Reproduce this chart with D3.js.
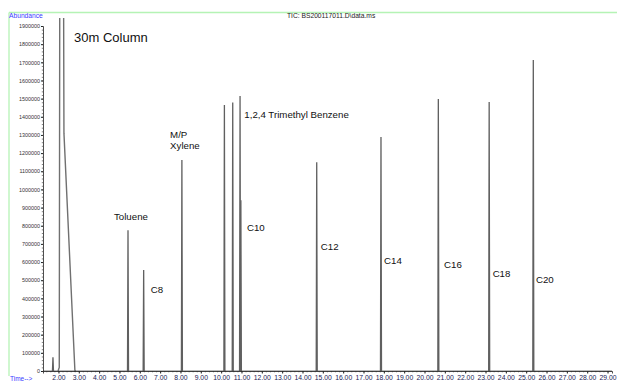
<!DOCTYPE html>
<html>
<head>
<meta charset="utf-8">
<script src="https://cdn.jsdelivr.net/npm/d3@7"></script>
<style>
  html, body { margin: 0; padding: 0; background: #fff; }
  svg { display: block; font-family: "Liberation Sans", Arial, sans-serif; }
</style>
</head>
<body>
<svg id="chart" width="617" height="381"></svg>
<script>
// Total ion chromatogram, 30 m column
const chartTitle = "30m Column";
const fileLabel = "TIC: BS200117011.D\\data.ms";

// Resolved peaks: retention time (min), abundance
const peakTimes   = [1.73, 5.42, 6.19, 8.07, 10.16, 10.57, 10.93, 10.97, 14.70, 17.86, 20.68, 23.18, 25.35];
const peakHeights = [75000, 775000, 556000, 1162000, 1465000, 1478000, 1514000, 940000, 1149000, 1289000, 1498000, 1481000, 1713000];

// Solvent front (goes off scale), as time / abundance pairs
const solventTimes  = [1.98, 2.04, 2.07, 2.24, 2.27, 2.81, 2.86];
const solventValues = [0, 20000, 2600000, 2600000, 1310000, 0, 0];

// Compound annotations
const labelNames = ["Toluene", "C8", "M/P", "Xylene", "1,2,4 Trimethyl Benzene", "C10", "C12", "C14", "C16", "C18", "C20"];
const labelTimes = [4.73, 6.54, 7.49, 7.49, 11.14, 11.27, 14.90, 18.01, 20.96, 23.35, 25.48];
const labelValues = [831000, 430000, 1283000, 1222000, 1393000, 771000, 666000, 589000, 567000, 519000, 485000];

// Axis ticks
const yTicks = d3.range(0, 1900001, 100000);
const xTicks = d3.range(2, 30, 1);

const svg = d3.select("#chart");
const left = 43, right = 612, bottom = 371, plotTop = 18;

const x = d3.scaleLinear().domain([1.24, 29.22]).range([left, right]);
const y = d3.scaleLinear().domain([0, 1900000]).range([bottom, 26]);

// Light green frame lines
svg.append("line").attr("x1", 9).attr("x2", 617).attr("y1", 12.5).attr("y2", 12.5)
  .attr("stroke", "#b5f3b5").attr("stroke-width", 1.3);
svg.append("line").attr("x1", 9).attr("x2", 9).attr("y1", 12.5).attr("y2", 376)
  .attr("stroke", "#b5f3b5").attr("stroke-width", 1.3);

svg.append("text").attr("x", 9).attr("y", 18).attr("font-size", 6.7)
  .attr("fill", "#3a3aff").text("Abundance");
svg.append("text").attr("x", 10).attr("y", 381).attr("font-size", 6.5)
  .attr("fill", "#3a3aff").text("Time-->");
svg.append("text").attr("x", 287).attr("y", 18).attr("font-size", 6.7)
  .attr("fill", "#222").text(fileLabel);

// Clip for off-scale peaks
svg.append("defs").append("clipPath").attr("id", "plotclip")
  .append("rect").attr("x", left).attr("y", plotTop).attr("width", right - left).attr("height", bottom - plotTop + 1);

const g = svg.append("g").attr("clip-path", "url(#plotclip)");
const line = d3.line().x(d => x(d[0])).y(d => y(d[1]));

// Solvent front
g.append("path")
  .datum(solventTimes.map((t, i) => [t, solventValues[i]]))
  .attr("d", line).attr("fill", "none")
  .attr("stroke", "#707070").attr("stroke-width", 1.4);

// Each peak drawn as a narrow up/down stroke
const halfWidth = 0.025;
peakTimes.forEach((t, i) => {
  g.append("path")
    .datum([[t - halfWidth, 0], [t, peakHeights[i]], [t + halfWidth, 0]])
    .attr("d", line).attr("fill", "none")
    .attr("stroke", "#606060").attr("stroke-width", 1.3)
    .attr("stroke-linejoin", "miter");
});

// Baseline trace
g.append("path").datum([[x.domain()[0], 0], [x.domain()[1], 0]])
  .attr("d", line).attr("stroke", "#555").attr("stroke-width", 0.8);

// Y axis
const yAxis = svg.append("g").attr("transform", `translate(${left},0)`)
  .call(d3.axisLeft(y).tickValues(yTicks).tickFormat(d3.format("d")).tickSize(2).tickPadding(1));
yAxis.select(".domain").attr("stroke", "#222").attr("stroke-width", 0.8);
yAxis.selectAll("text").attr("font-size", 5.4).attr("fill", "#333").attr("font-family", "Liberation Sans, Arial, sans-serif");
yAxis.selectAll(".tick line").attr("stroke", "#222");
svg.append("g").attr("transform", `translate(${left},0)`)
  .call(d3.axisLeft(y).tickValues(d3.range(0, 1900001, 20000)).tickFormat("").tickSize(1.2))
  .call(s => s.select(".domain").remove())
  .selectAll("line").attr("stroke", "#333").attr("stroke-width", 0.6);

// X axis
const xAxis = svg.append("g").attr("transform", `translate(0,${bottom})`)
  .call(d3.axisBottom(x).tickValues(xTicks).tickFormat(d3.format(".2f")).tickSize(2.5).tickPadding(1.5));
xAxis.select(".domain").attr("stroke", "#222").attr("stroke-width", 0.8);
xAxis.selectAll("text").attr("font-size", 6.8).attr("fill", "#1a1a55").attr("font-family", "Liberation Sans, Arial, sans-serif");
xAxis.selectAll(".tick line").attr("stroke", "#222");
svg.append("g").attr("transform", `translate(0,${bottom})`)
  .call(d3.axisBottom(x).tickValues(d3.range(1.4, 29.2, 0.2)).tickFormat("").tickSize(1.3))
  .call(s => s.select(".domain").remove())
  .selectAll("line").attr("stroke", "#333").attr("stroke-width", 0.6);

// Title and compound labels
svg.append("text").attr("x", 74).attr("y", 41.5).attr("font-size", 13)
  .attr("fill", "#111").text(chartTitle);

svg.append("g").selectAll("text").data(labelNames).join("text")
  .attr("x", (d, i) => x(labelTimes[i]))
  .attr("y", (d, i) => y(labelValues[i]))
  .attr("font-size", 9.7).attr("fill", "#111")
  .text(d => d);
</script>
</body>
</html>
